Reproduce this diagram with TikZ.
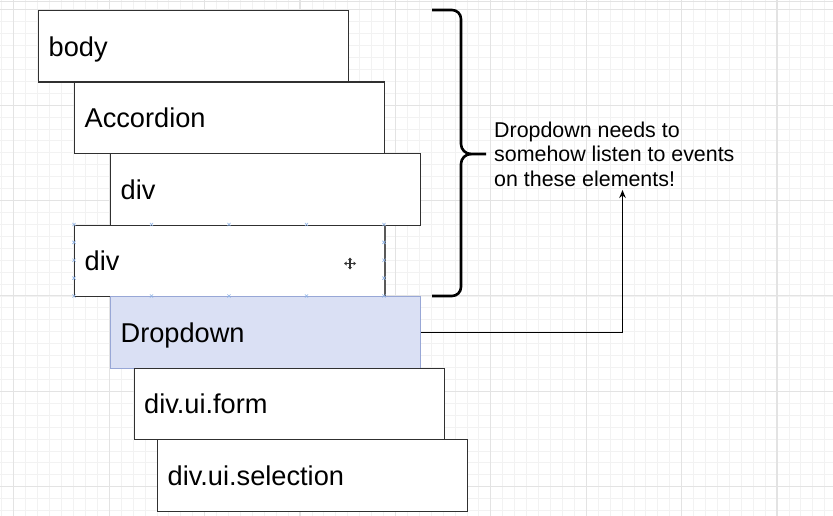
\documentclass[tikz,border=0pt]{standalone}
\usepackage{fontspec}
\setmainfont{Liberation Sans}
\usetikzlibrary{arrows.meta}
\definecolor{gridminor}{HTML}{F2F2F2}
\definecolor{gridmajor}{HTML}{E3E3E3}
\definecolor{boxline}{HTML}{303030}
\definecolor{ddfill}{HTML}{DAE0F4}
\definecolor{ddline}{HTML}{98A7D6}
\definecolor{handle}{HTML}{8FB3E6}
\begin{document}
\begin{tikzpicture}[x=1pt,y=-1pt,
  elem/.style={draw=boxline, line width=1.3pt, fill=white, rectangle,
    anchor=north west, minimum width=310pt, minimum height=71.5pt,
    text width=290pt, inner xsep=10pt, inner ysep=0pt, align=left,
    font=\fontsize{27.2}{31}\selectfont, text height=19.4pt, text depth=0pt},
  sel/.style={elem, fill=ddfill, draw=ddline},
  minorline/.style={draw=gridminor, line width=0.8pt},
  majorline/.style={draw=gridmajor, line width=1.1pt},
  handlemark/.style={draw=handle, line width=0.6pt}]
\useasboundingbox (0,0) rectangle (833,516);
\fill[white] (0,0) rectangle (833,516);
% grid
\foreach \i in {0,...,70} {\draw[minorline] ({1.875+\i*11.925},0) -- ++(0,516);}
\foreach \j in {0,...,44} {\draw[minorline] (0,{-2.2+\j*11.925}) -- ++(833,0);}
\foreach \i in {0,...,8} {\draw[majorline] ({13.8+\i*95.4},0) -- ++(0,516);}
\foreach \j in {0,...,5} {\draw[majorline] (0,{9.7+\j*95.4}) -- ++(833,0);}
\draw[gridmajor, line width=1pt] (0,2) -- (833,2);
% boxes
\node[elem] (body) at (38,10) {body};
\node[elem] (acc) at (74,81.5) {Accordion};
\node[elem] (div1) at (110,153) {div};
\node[elem] (div2) at (74,224.5) {div};
\draw[draw=black!65, line width=2pt] (div2.north east) -- (div2.south east);
\node[sel] (dd) at (110,296) {Dropdown};
\node[elem] (form) at (133.5,367.5) {div.ui.form};
\node[elem] (selection) at (157,439) {div.ui.selection};
% selection handles on div2
\foreach \x in {74,151.5,229,306.5,384} {
  \draw[handlemark] (\x-1.6,222.9) -- (\x+1.6,226.1) (\x-1.6,226.1) -- (\x+1.6,222.9);
  \draw[handlemark] (\x-1.6,294.4) -- (\x+1.6,297.6) (\x-1.6,297.6) -- (\x+1.6,294.4);
}
\foreach \y in {242.4,260.3,278.1} {
  \draw[handlemark] (72.4,\y-1.6) -- (75.6,\y+1.6) (72.4,\y+1.6) -- (75.6,\y-1.6);
  \draw[handlemark] (382.4,\y-1.6) -- (385.6,\y+1.6) (382.4,\y+1.6) -- (385.6,\y-1.6);
}
% move cursor
\draw[black!80, line width=1.3pt] (345.5,263.5) -- (354.5,263.5) (350,259) -- (350,268);
\fill[black!80] (350,257.5) -- (348,260) -- (352,260) -- cycle
  (350,269.5) -- (348,267) -- (352,267) -- cycle
  (344,263.5) -- (346.5,261.5) -- (346.5,265.5) -- cycle
  (356,263.5) -- (353.5,261.5) -- (353.5,265.5) -- cycle;
% brace
\draw[black, line width=2.6pt]
  (432,10) -- (452,10) to[out=0,in=90] (461,19) -- (461,144)
  to[out=-90,in=180] (471,154) -- (486,154);
\draw[black, line width=2.6pt]
  (471,154) to[out=180,in=90] (461,164) -- (461,287)
  to[out=-90,in=0] (452,296) -- (432,296);
% note
\node[font=\fontsize{21.4}{24.5}\selectfont, align=left, anchor=north west, inner sep=0pt]
  (note) at (494,121.6) {Dropdown needs to\\somehow listen to events\\on these elements!};
\coordinate (tip) at (622.5,190);
\draw[black, line width=1.2pt, -{Stealth[length=8pt,width=6.5pt]}] (dd.east) -| (tip);
\end{tikzpicture}
\end{document}
